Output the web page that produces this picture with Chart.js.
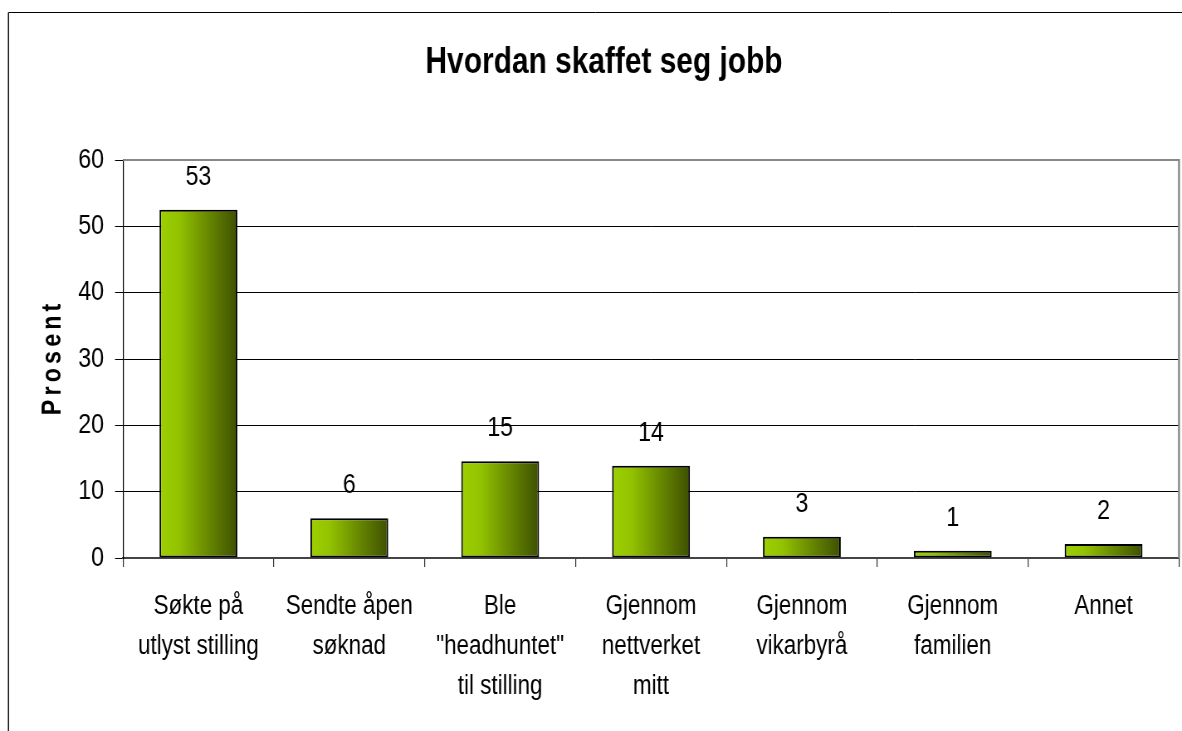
<!DOCTYPE html>
<html>
<head>
<meta charset="utf-8">
<script src="https://cdn.jsdelivr.net/npm/chart.js@4.4.1/dist/chart.umd.min.js"></script>
<style>
  html, body { margin: 0; padding: 0; background: #fff; overflow: hidden; }
  #wrap { position: relative; width: 1182px; height: 731px; }
</style>
</head>
<body>
<div id="wrap"><canvas id="c" width="1424" height="731" style="width:1182px;height:731px;display:block"></canvas></div>
<script>
const chartTitle = 'Hvordan skaffet seg jobb';
const yAxisTitle = 'Prosent';
const categories = [
  ['Søkte på', 'utlyst stilling'],
  ['Sendte åpen', 'søknad'],
  ['Ble', '"headhuntet"', 'til stilling'],
  ['Gjennom', 'nettverket', 'mitt'],
  ['Gjennom', 'vikarbyrå'],
  ['Gjennom', 'familien'],
  ['Annet']
];
const values = [52.5, 6.0, 14.6, 13.9, 3.2, 1.1, 2.1];
const yTicks = [0, 10, 20, 30, 40, 50, 60];

// The canvas is drawn 1424 px wide and shown 1182 px wide, which gives the
// condensed (Arial Narrow-like) lettering of the original.
const S = 1182 / 1424;
const FONT = "'Liberation Sans', Arial, sans-serif";
const BAR_PCT = 0.516;

const decorPlugin = {
  id: 'decor',
  beforeDraw(chart) {
    const ctx = chart.ctx;
    ctx.save();
    ctx.strokeStyle = '#000';
    ctx.lineWidth = 1;
    ctx.beginPath();
    ctx.moveTo(8.5 / S, 2000);
    ctx.lineTo(8.5 / S, 12.5);
    ctx.lineTo(3000, 12.5);
    ctx.stroke();
    ctx.lineWidth = 1.2;
    ctx.beginPath();
    ctx.moveTo(8.5 / S, 731);
    ctx.lineTo(8.5 / S, 12.5);
    ctx.stroke();
    ctx.restore();
  },
  beforeDatasetsDraw(chart) {
    const ctx = chart.ctx, a = chart.chartArea;
    ctx.save();
    ctx.strokeStyle = '#888';
    ctx.lineWidth = 2;
    ctx.beginPath();
    ctx.moveTo(a.left, a.top);
    ctx.lineTo(a.right, a.top);
    ctx.stroke();
    ctx.lineWidth = 2 / S;
    ctx.beginPath();
    ctx.moveTo(a.right, a.top - 1);
    ctx.lineTo(a.right, a.bottom);
    ctx.stroke();
    ctx.restore();
  },
  afterDatasetsDraw(chart) {
    const ctx = chart.ctx;
    const meta = chart.getDatasetMeta(0);
    ctx.save();
    ctx.fillStyle = '#000';
    ctx.font = '28px ' + FONT;
    ctx.textAlign = 'center';
    ctx.textBaseline = 'alphabetic';
    meta.data.forEach((el, i) => {
      ctx.fillText(String(Math.round(values[i])), el.x, el.y - 25);
    });
    ctx.restore();
  },
  afterDraw(chart) {
    const ctx = chart.ctx;
    ctx.save();
    ctx.fillStyle = '#000';
    ctx.font = 'bold 36px ' + FONT;
    ctx.textAlign = 'center';
    ctx.textBaseline = 'alphabetic';
    ctx.fillText(chartTitle, 604 / S, 73);
    ctx.restore();

    ctx.save();
    ctx.fillStyle = '#000';
    ctx.translate(53 / S, 359);
    ctx.scale(1 / S, 1);
    ctx.rotate(-Math.PI / 2);
    ctx.scale(S, 1);
    ctx.font = 'bold 28px ' + FONT;
    ctx.letterSpacing = '5px';
    ctx.textAlign = 'center';
    ctx.textBaseline = 'middle';
    ctx.fillText(yAxisTitle, 2, 0);
    ctx.restore();
  }
};

function barGradient(c) {
  const chart = c.chart;
  const xs = chart.scales && chart.scales.x;
  if (!xs || !chart.chartArea || c.dataIndex === undefined) return '#8fbf00';
  const cx = xs.getPixelForValue(c.dataIndex);
  const half = (xs.width / categories.length) * BAR_PCT / 2;
  const g = chart.ctx.createLinearGradient(cx - half, 0, cx + half, 0);
  g.addColorStop(0, '#9dd000');
  g.addColorStop(0.25, '#93c300');
  g.addColorStop(0.6, '#6a8c00');
  g.addColorStop(1, '#3e5000');
  return g;
}

new Chart(document.getElementById('c'), {
  type: 'bar',
  data: {
    labels: categories,
    datasets: [{
      data: values,
      backgroundColor: barGradient,
      borderColor: '#000',
      borderWidth: 2,
      borderSkipped: false,
      categoryPercentage: 1,
      barPercentage: BAR_PCT
    }]
  },
  plugins: [decorPlugin],
  options: {
    responsive: false,
    animation: false,
    devicePixelRatio: 1,
    layout: { padding: { top: 160, right: 1424 - 1179 / S, left: 0, bottom: 0 } },
    plugins: {
      legend: { display: false },
      title: { display: false },
      tooltip: { enabled: false }
    },
    scales: {
      x: {
        offset: true,
        afterFit(scale) { scale.height = 173; },
        grid: {
          offset: true,
          drawOnChartArea: false,
          drawTicks: true,
          tickLength: 9,
          color: '#333',
          lineWidth: 1.2
        },
        border: { display: true, color: '#444', width: 2 },
        ticks: {
          color: '#000',
          padding: 20,
          maxRotation: 0,
          autoSkip: false,
          font: { family: FONT, size: 27, lineHeight: 1.48 }
        }
      },
      y: {
        min: 0,
        max: 60,
        afterFit(scale) { scale.width = 123 / S; },
        afterBuildTicks(scale) { scale.ticks = yTicks.map(v => ({ value: v })); },
        grid: {
          color: '#000',
          lineWidth: 1,
          drawTicks: true,
          tickLength: 8 / S
        },
        border: { display: true, color: '#000', width: 1.2 },
        ticks: {
          color: '#000',
          padding: 11 / S,
          font: { family: FONT, size: 28 }
        }
      }
    }
  }
});
</script>
</body>
</html>
